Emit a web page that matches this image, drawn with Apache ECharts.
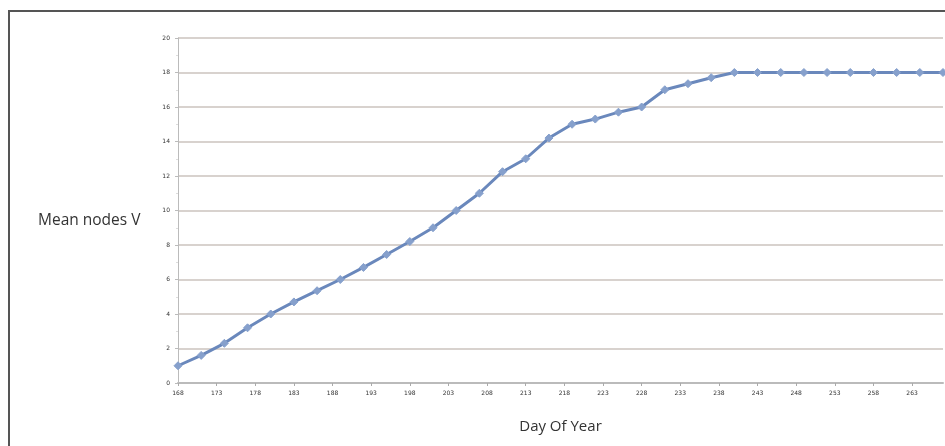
<!DOCTYPE html>
<html>
<head>
<meta charset="utf-8">
<script src="https://cdn.jsdelivr.net/npm/echarts@6/dist/echarts.min.js"></script>
<style>html,body{margin:0;padding:0;background:#fff}#c{width:945px;height:446px}</style>
</head>
<body>
<div id="c"></div>
<script>
var dayCategories = [];
for (var d = 168; d <= 267; d++) dayCategories.push(String(d));
var sampleDays = [168,171,174,177,180,183,186,189,192,195,198,201,204,207,210,213,216,219,222,225,228,231,234,237,240,243,246,249,252,255,258,261,264,267];
var meanNodes = [1.0,1.6,2.3,3.2,4.0,4.7,5.35,6.0,6.7,7.45,8.2,9.0,10.0,11.0,12.25,13.0,14.2,15.0,15.3,15.7,16.0,17.0,17.35,17.7,18.0,18.0,18.0,18.0,18.0,18.0,18.0,18.0,18.0,18.0];

var chart = echarts.init(document.getElementById('c'), null, {renderer: 'canvas'});
chart.setOption({
  animation: false,
  grid: {left: 178, right: 2, top: 38, bottom: 63},
  graphic: [{
    type: 'rect', z: 100,
    shape: {x: 9, y: 11, width: 1000, height: 1000},
    style: {fill: 'none', stroke: '#555', lineWidth: 2}
  }, {
    type: 'text', left: 38, top: 213,
    style: {text: 'Mean nodes V', fontSize: 15.5, fill: '#333', fontFamily: 'Open Sans'}
  }],
  xAxis: {
    type: 'category',
    data: dayCategories,
    boundaryGap: false,
    name: 'Day Of Year',
    nameLocation: 'middle',
    nameGap: 36,
    nameTextStyle: {fontSize: 15, color: '#333', fontFamily: 'Open Sans'},
    axisLine: {lineStyle: {color: '#bbb', width: 2}},
    axisTick: {interval: 4, length: 3, lineStyle: {color: '#aaa'}},
    axisLabel: {interval: 4, fontSize: 6, color: '#333', margin: 7, fontFamily: 'DejaVu Sans'},
    splitLine: {show: false}
  },
  yAxis: {
    type: 'value',
    min: 0, max: 20, interval: 2,
    axisLine: {show: true, lineStyle: {color: '#bbb', width: 1}},
    axisTick: {show: true, length: 3, lineStyle: {color: '#bbb'}},
    minorTick: {show: true, splitNumber: 2, length: 2, lineStyle: {color: '#ddd'}},
    axisLabel: {fontSize: 6, color: '#333', margin: 8, fontFamily: 'DejaVu Sans'},
    splitLine: {lineStyle: {color: '#cbc3be', width: 1.5}}
  },
  series: [{
    type: 'line',
    data: sampleDays.map(function (d, i) { return [String(d), meanNodes[i]]; }),
    symbol: 'diamond',
    symbolSize: 8,
    showSymbol: true,
    showAllSymbol: true,
    lineStyle: {color: '#6a88bc', width: 3},
    itemStyle: {color: '#86a0cc', borderColor: '#86a0cc'}
  }]
});
</script>
</body>
</html>
